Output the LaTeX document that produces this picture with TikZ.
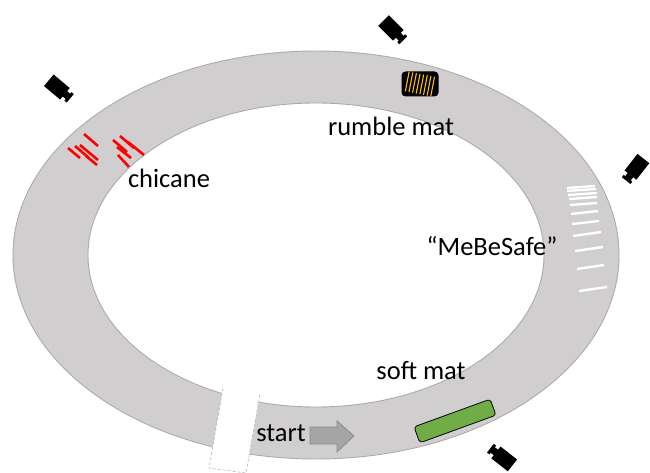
\documentclass[tikz,border=0pt]{standalone}
\usepackage{fontspec}
\setmainfont{Carlito}
\definecolor{trackgray}{HTML}{D0CECE}
\definecolor{trackedge}{HTML}{AEAAAA}
\definecolor{arrowgray}{HTML}{A5A5A5}
\definecolor{arrowedge}{HTML}{8C8C8C}
\definecolor{matgreen}{HTML}{70AD47}
\definecolor{stripe}{HTML}{FFC000}
\begin{document}
\begin{tikzpicture}[x=1pt,y=-1pt,
  lbl/.style={anchor=base, font=\fontsize{26.5}{30}\selectfont, inner sep=0pt},
  chic/.style={red, line width=2.6pt},
  lane/.style={white, line width=2.4pt},
  camera/.pic={
    \fill[black] (-12,-7.5) rectangle (9,7.5);
    \fill[black] (8,-3.5) rectangle (14,3.5);
    \fill[black] (13,-5.5) rectangle (16,5.5);
  }]
\useasboundingbox (0,0) rectangle (650,473);

% track ring
\fill[trackgray, even odd rule]
  (316,255) ellipse [x radius=303pt, y radius=204pt]
  (316,255) ellipse [x radius=228pt, y radius=152pt];
\draw[trackedge, line width=0.9pt] (316,255) ellipse [x radius=303pt, y radius=204pt];
\draw[trackedge, line width=0.9pt] (316,255) ellipse [x radius=228pt, y radius=152pt];

% gap at the start
\coordinate (gTL) at (223,388);
\coordinate (gBL) at (209,468);
\coordinate (gBR) at (246,473);
\coordinate (gTR) at (260,394);
\fill[white] (gTL) -- (gBL) -- (gBR) -- (gTR) -- cycle;
\draw[trackedge, densely dashed, line width=0.5pt] (gTL) -- (gBL) -- (gBR) -- (gTR);

% chicane
\draw[chic] (68,148) -- (80,158);
\draw[chic] (75,146) -- (89,158);
\draw[chic] (80,145) -- (98,160);
\draw[chic] (84,134) -- (98,146);
\draw[chic] (86,156) -- (97,165);
\draw[chic] (113,140) -- (127,152);
\draw[chic] (117,147) -- (131,158);
\draw[chic] (118,155) -- (129,167);
\draw[chic] (120,136) -- (134,148);
\draw[chic] (128,142) -- (144,155);

% rumble mat
\begin{scope}[shift={(420,84)}, rotate=-11]
  \node[fill=black, rounded corners=4pt, minimum width=37pt, minimum height=25pt, inner sep=0pt] (rumble) {};
  \foreach \s in {-13,-9.3,...,13}
    \draw[stripe, line width=1.1pt] (\s,-10) -- (\s,10);
\end{scope}

% MeBeSafe lane markings
\draw[lane] (567,188) -- (595,186);
\draw[lane] (567,191) -- (596,189);
\draw[lane] (568,195) -- (597,193);
\draw[lane] (569,199) -- (597,197);
\draw[lane] (570,205) -- (597,203);
\draw[lane] (571,214) -- (598,211);
\draw[lane] (572,224) -- (599,221);
\draw[lane] (573,236) -- (601,232);
\draw[lane] (575,251) -- (603,247);
\draw[lane] (577,269) -- (604,265);
\draw[lane] (579,291) -- (607,287);

% soft mat
\node[fill=matgreen, draw=black, line width=0.8pt, rounded corners=3pt,
      minimum width=81pt, minimum height=17pt, inner sep=0pt, rotate=20] (soft) at (455,421) {};

% start arrow
\draw[fill=arrowgray, draw=arrowedge, line width=0.8pt]
  (310,427) -- (337,427) -- (337,421) -- (354,436) -- (337,452) -- (337,444) -- (310,444) -- cycle;

% cameras
\pic[rotate=-40] (camA) at (58,88) {camera};
\pic[rotate=-45] (camB) at (392,29) {camera};
\pic[rotate=-128] (camC) at (636,168) {camera};
\pic[rotate=142] (camD) at (503,458) {camera};

% labels
\node[lbl] (lrumble) at (391,136) {rumble mat};
\node[lbl] (lchic) at (169,188) {chicane};
\node[lbl] (lsafe) at (492,255) {“MeBeSafe”};
\node[lbl] (lsoft) at (421,379) {soft mat};
\node[lbl] (lstart) at (281,441) {start};
\end{tikzpicture}
\end{document}
